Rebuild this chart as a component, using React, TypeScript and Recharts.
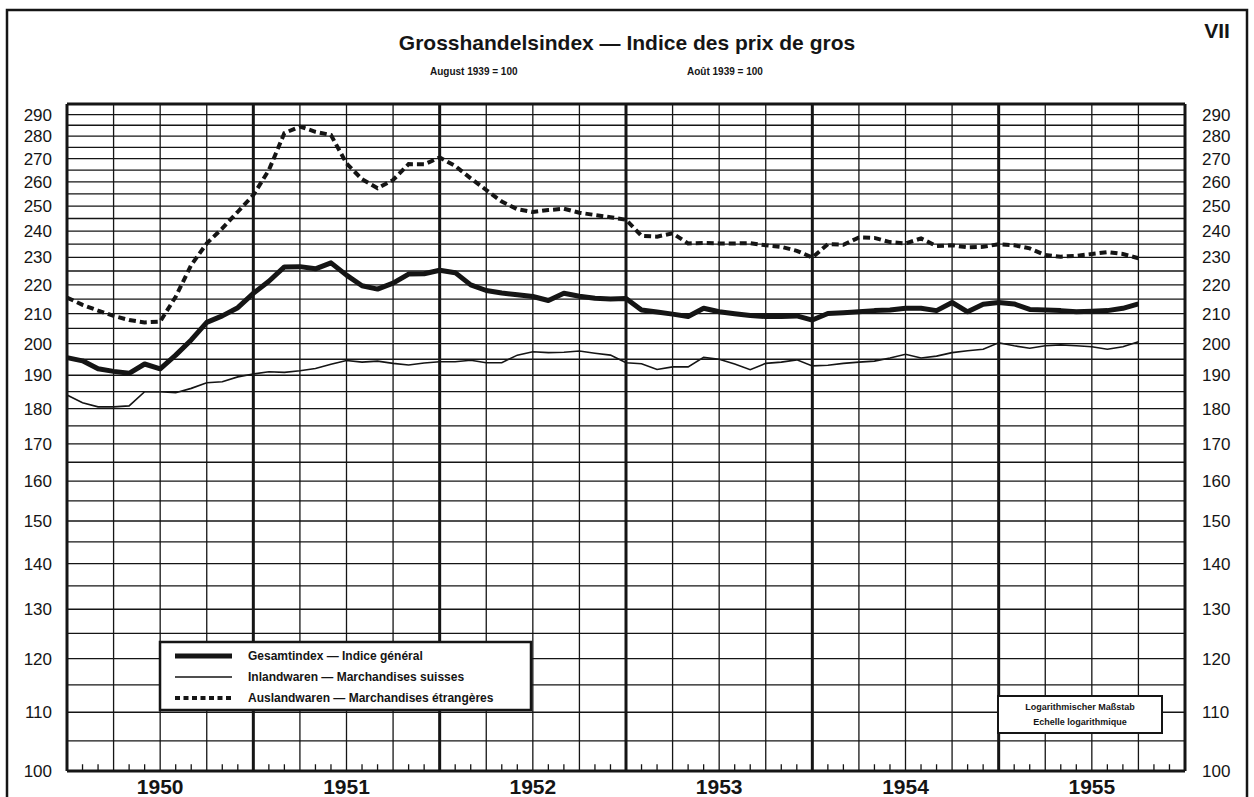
import { LineChart, Line, XAxis, YAxis, ReferenceLine } from "recharts";

// monthly values, Dec 1949 .. Sep 1955 (plotted at month ends)
const gesamt = [
  195.5, 194.5, 192, 191.2, 190.6, 193.5, 192, 196.3, 201.2, 207, 209.2, 212,
  217, 221.3, 226.5, 226.6, 225.8, 228, 223.5, 219.7, 218.5, 220.6, 223.9, 224,
  225.3, 224.4, 220, 218, 217.1, 216.5, 215.9, 214.5, 217, 216, 215.3, 215,
  215.2, 211.2, 210.5, 209.8, 209, 211.8, 210.6, 209.9, 209.3, 209, 209, 209.2,
  207.8, 210, 210.3, 210.6, 211, 211.2, 211.8, 211.8, 211, 213.8, 210.6, 213.2,
  213.8, 213.3, 211.4, 211.2, 211, 210.6, 210.8, 211, 211.8, 213.3,
];
const inland = [
  184, 181.7, 180.5, 180.5, 180.8, 185, 185, 184.7, 186, 187.7, 188, 189.5,
  190.4, 191.1, 190.9, 191.4, 192.1, 193.4, 194.6, 194.1, 194.4, 193.7, 193.2, 193.8,
  194.2, 194.2, 194.7, 193.9, 193.9, 196.3, 197.4, 197.1, 197.2, 197.6, 196.9, 196.3,
  193.9, 193.6, 191.8, 192.6, 192.6, 195.6, 195, 193.5, 191.7, 193.7, 194.1, 194.8,
  192.9, 193.1, 193.7, 194.1, 194.4, 195.4, 196.6, 195.4, 196, 197.1, 197.7, 198.2,
  200.3, 199.3, 198.5, 199.3, 199.6, 199.3, 199, 198.2, 199, 200.6,
];
const ausland = [
  215.5, 213, 211, 209.2, 207.8, 207, 207.3, 215.8, 227.2, 235.3, 241.1, 247.7,
  254.5, 265, 281.4, 284.4, 282, 280.5, 267.9, 261.1, 257.3, 260.8, 267.6, 267.5,
  270.5, 266.8, 261.5, 256.6, 251.8, 248.7, 247.6, 248.4, 248.9, 247.3, 246.4, 245.5,
  244.5, 238.2, 237.9, 239.2, 235.3, 235.5, 235.3, 235.3, 235.4, 234.6, 234, 232.5,
  230, 235, 234.8, 237.6, 237.4, 235.8, 235.3, 237.2, 234.3, 234.6, 233.8, 234,
  235, 234.6, 233.4, 230.9, 230.3, 230.6, 231.3, 232, 231.3, 229.7,
];

const seriesNames = [
  "Gesamtindex — Indice général",
  "Inlandwaren — Marchandises suisses",
  "Auslandwaren — Marchandises étrangères",
];

const years = ["1950", "1951", "1952", "1953", "1954", "1955"];
const yearTicks = [6, 18, 30, 42, 54, 66];
const yTicks = [100, 110, 120, 130, 140, 150, 160, 170, 180, 190, 200, 210, 220, 230, 240, 250, 260, 270, 280, 290];
const gridValues = [
  105, 110, 115, 120, 125, 130, 135, 140, 145, 150, 155, 160, 165, 170, 175, 180, 185, 190, 195,
  200, 205, 210, 215, 220, 225, 230, 235, 240, 245, 250, 255, 260, 265, 270, 275, 280, 285, 290,
];
const quarterLines = [3, 6, 9, 15, 18, 21, 27, 30, 33, 39, 42, 45, 51, 54, 57, 63, 66, 69];
const yearLines = [12, 24, 36, 48, 60];
const monthTicks = Array.from({ length: 72 }, (_, i) => i).filter((i) => i % 3 !== 0);

const data = gesamt.map((g, i) => ({ m: i, gesamt: g, inland: inland[i], ausland: ausland[i] }));

const INK = "#151515";
const FONT = '"Liberation Sans", Arial, Helvetica, sans-serif';

const axisTick = { fontSize: 17, fill: INK, fontFamily: FONT };

export default function App() {
  return (
    <div
      style={{
        position: "absolute",
        left: 0,
        top: 0,
        width: 1254,
        height: 797,
        background: "#fff",
        overflow: "hidden",
        fontFamily: FONT,
      }}
    >
      <LineChart width={1254} height={797} data={data} margin={{ top: 104, right: 9, bottom: 0, left: 7 }}>
        <XAxis
          dataKey="m"
          type="number"
          domain={[0, 72]}
          ticks={yearTicks}
          interval={0}
          tickFormatter={(v) => years[yearTicks.indexOf(v)]}
          axisLine={false}
          tickLine={false}
          tickSize={0}
          tickMargin={8}
          height={26}
          tick={{ fontSize: 21, fontWeight: 700, fill: INK, fontFamily: FONT }}
        />
        <YAxis
          scale="log"
          type="number"
          domain={[100, 295]}
          allowDataOverflow
          ticks={yTicks}
          interval={0}
          width={60}
          axisLine={false}
          tickLine={false}
          tickSize={0}
          tickMargin={15}
          tick={axisTick}
        />
        <YAxis
          yAxisId="r"
          orientation="right"
          scale="log"
          type="number"
          domain={[100, 295]}
          allowDataOverflow
          ticks={yTicks}
          interval={0}
          width={60}
          axisLine={false}
          tickLine={false}
          tickSize={0}
          tickMargin={17}
          tick={axisTick}
        />

        {gridValues.map((v) => (
          <ReferenceLine key={"h" + v} y={v} stroke={INK} strokeWidth={1.3} />
        ))}
        {quarterLines.map((k) => (
          <ReferenceLine key={"q" + k} x={k} stroke={INK} strokeWidth={1.3} />
        ))}
        {yearLines.map((k) => (
          <ReferenceLine key={"y" + k} x={k} stroke={INK} strokeWidth={3} />
        ))}
        {monthTicks.map((k) => (
          <ReferenceLine
            key={"t" + k}
            segment={[
              { x: k, y: 100 },
              { x: k, y: 101.1 },
            ]}
            stroke={INK}
            strokeWidth={1.3}
          />
        ))}
        <ReferenceLine x={0} stroke={INK} strokeWidth={3} />
        <ReferenceLine x={72} stroke={INK} strokeWidth={3} />
        <ReferenceLine y={100} stroke={INK} strokeWidth={3} />
        <ReferenceLine y={295} stroke={INK} strokeWidth={3} />

        <Line
          type="linear"
          dataKey="inland"
          name={seriesNames[1]}
          stroke={INK}
          strokeWidth={1.6}
          dot={false}
          isAnimationActive={false}
        />
        <Line
          type="linear"
          dataKey="ausland"
          name={seriesNames[2]}
          stroke={INK}
          strokeWidth={4}
          strokeDasharray="7 4"
          dot={false}
          isAnimationActive={false}
        />
        <Line
          type="linear"
          dataKey="gesamt"
          name={seriesNames[0]}
          stroke={INK}
          strokeWidth={5}
          strokeLinejoin="round"
          dot={false}
          isAnimationActive={false}
        />
      </LineChart>

      <svg
        width={1254}
        height={797}
        style={{ position: "absolute", left: 0, top: 0, pointerEvents: "none" }}
        fontFamily={FONT}
        fill={INK}
      >
        <rect x={7} y={10} width={1240} height={820} fill="none" stroke={INK} strokeWidth={2.5} />
        <text x={627} y={50} textAnchor="middle" fontSize={21} fontWeight={700}>
          Grosshandelsindex — Indice des prix de gros
        </text>
        <text x={430} y={75} fontSize={10} fontWeight={700}>
          August 1939 = 100
        </text>
        <text x={687} y={75} fontSize={10} fontWeight={700}>
          Août 1939 = 100
        </text>
        <text x={1217} y={38} textAnchor="middle" fontSize={21} fontWeight={700}>
          VII
        </text>

        <rect x={160} y={642} width={371} height={68} fill="#fff" stroke={INK} strokeWidth={2.5} />
        <line x1={175} y1={656} x2={232} y2={656} stroke={INK} strokeWidth={5} />
        <line x1={175} y1={677} x2={232} y2={677} stroke={INK} strokeWidth={1.6} />
        <line x1={175} y1={698} x2={232} y2={698} stroke={INK} strokeWidth={4} strokeDasharray="5 3.5" />
        {seriesNames.map((s, i) => (
          <text key={s} x={248} y={660 + i * 21} fontSize={12} fontWeight={700}>
            {s}
          </text>
        ))}

        <rect x={998} y={696} width={164} height={37} fill="#fff" stroke={INK} strokeWidth={2} />
        <text x={1080} y={710} textAnchor="middle" fontSize={9} fontWeight={700}>
          Logarithmischer Maßstab
        </text>
        <text x={1080} y={725} textAnchor="middle" fontSize={9} fontWeight={700}>
          Echelle logarithmique
        </text>
      </svg>
    </div>
  );
}
